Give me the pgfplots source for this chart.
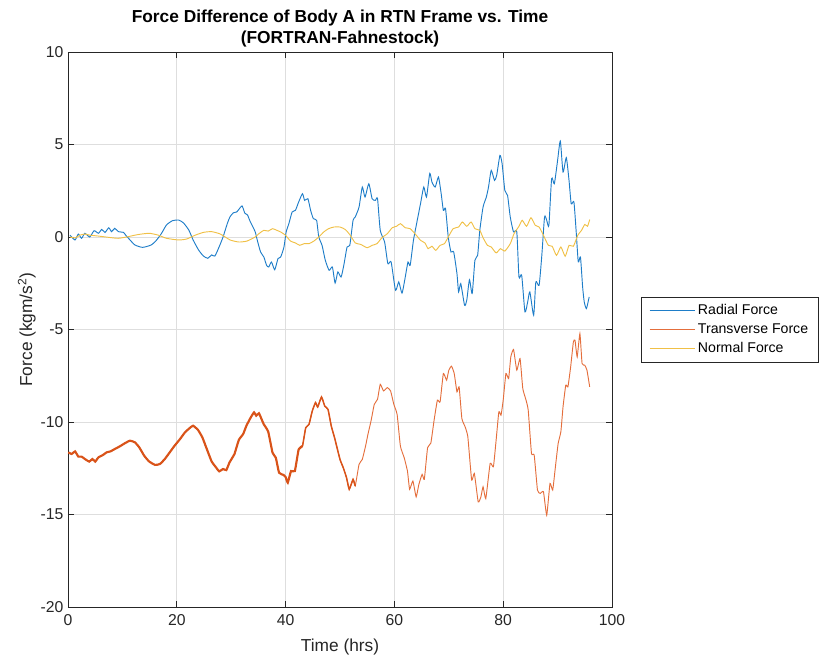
\documentclass[border=0pt]{standalone}
\usepackage{pgfplots}
\pgfplotsset{compat=1.18}
\usepackage{fontspec}
\setmainfont{Liberation Sans}
\definecolor{mblue}{RGB}{30,125,200}
\definecolor{morange}{RGB}{217,83,25}
\definecolor{morangel}{RGB}{228,110,60}
\definecolor{myellow}{RGB}{240,192,70}
\definecolor{axgray}{RGB}{38,38,38}
\definecolor{gridgray}{RGB}{222,222,222}
\begin{document}
\begin{tikzpicture}
\useasboundingbox (-51pt,-41.25pt) rectangle (563.25pt,455.25pt);
\begin{axis}[
  scale only axis,
  width=408pt, height=416.25pt,
  xmin=0, xmax=100, ymin=-20, ymax=10,
  xtick={0,20,40,60,80,100},
  ytick={-20,-15,-10,-5,0,5,10},
  yticklabels={-20,-15,-10,-5,0,5,10},
  xticklabels={0,20,40,60,80,100},
  tick align=inside, tick pos=both,
  major tick length=4.5pt,
  axis line style={axgray, line width=0.6pt},
  tick style={axgray, line width=0.6pt},
  grid=major,
  major grid style={gridgray, line width=0.5pt},
  ticklabel style={font=\fontsize{11.8}{14}\selectfont, text=axgray},
  xticklabel style={yshift=-2pt},
  title={Force Difference of Body A in RTN Frame vs. Time\\(FORTRAN-Fahnestock)},
  title style={at={(axis description cs:0.5,1)}, anchor=south, yshift=-2.5pt, inner sep=0pt, align=center, font=\fontsize{13}{15.75}\selectfont\bfseries},
  xlabel={Time (hrs)},
  xlabel style={at={(axis description cs:0.5,0)}, anchor=south, yshift=-36pt, inner sep=0pt, font=\fontsize{13}{15}\selectfont, text=axgray},
  ylabel={Force (kgm/s\textsuperscript{2})},
  ylabel style={at={([xshift=-24pt]axis description cs:0,0.5)}, anchor=south, inner sep=0pt, font=\fontsize{13}{15}\selectfont, text=axgray},
  legend style={at={(1.053,0.5)}, anchor=west, draw=axgray, line width=0.5pt, fill=white,
    font=\fontsize{10.6}{12}\selectfont, inner xsep=6pt, inner ysep=2.85pt, row sep=0pt,
    nodes={inner sep=1.9pt, text height=8pt, text depth=2.5pt}},
  legend cell align=left,
  legend image code/.code={\path (0pt,-3.6pt); \draw[#1] (0pt,0pt) -- (34pt,0pt);},
]
\addplot[mblue, line width=0.7pt, smooth, tension=0.35] coordinates {
(0.37,0.1)(1.29,-0.16)(1.9,0.16)(2.5,-0.07)(3.1,0.2)(4.0,0.0)(4.8,0.34)(5.6,0.2)(6.2,0.41)(6.8,0.25)
(7.5,0.5)(8.0,0.29)(8.6,0.47)(9.25,0.29)(10.2,0.25)(10.6,0.1)(11.4,-0.16)(12.3,-0.43)(13.7,-0.56)(15.3,-0.43)
(16.3,-0.16)(17.2,0.2)(18.1,0.65)(19.2,0.88)(20.3,0.92)(21.2,0.77)(22.2,0.38)(23.0,-0.16)(24.0,-0.7)(24.9,-1.03)
(25.7,-1.15)(26.4,-0.97)(27.0,-1.03)(27.8,-0.52)(28.5,0.0)(29.3,0.74)(29.8,1.1)(30.4,1.31)(31.0,1.35)(31.4,1.49)
(32.0,1.68)(32.5,1.29)(33.0,1.19)(33.5,0.83)(34.4,0.29)(34.8,-0.18)(35.4,-0.81)(36.0,-1.08)(36.5,-1.53)(36.9,-1.62)
(37.4,-1.35)(38.0,-1.77)(38.6,-1.17)(39.1,-1.08)(39.7,-0.54)(40.1,0.27)(40.6,0.72)(41.2,1.35)(41.8,1.44)(42.4,1.89)
(43.1,2.34)(43.5,1.98)(44.1,2.07)(44.6,1.44)(45.1,0.99)(45.7,0.9)(46.1,0)(46.7,-0.45)(47.3,-1.26)(48.0,-1.8)
(48.6,-1.62)(49.1,-2.49)(49.6,-1.89)(50.2,-2.16)(50.7,-1.53)(51.3,-0.54)(51.8,-0.45)(52.4,0.9)(52.8,1.08)(53.5,1.62)
(54.1,2.70)(54.6,2.16)(55.3,2.88)(55.9,2.07)(56.5,1.98)(56.9,2.07)(57.4,0.36)(58.2,-0.27)(58.8,-1.44)(59.4,-1.35)
(60.2,-2.88)(60.8,-2.43)(61.4,-3.03)(62.0,-2.16)(62.5,-1.35)(62.9,-1.53)(63.5,-0.18)(64.2,0.9)(64.8,1.80)(65.4,2.70)
(65.9,2.16)(66.5,3.44)(66.9,2.97)(67.5,2.70)(68.1,3.24)(68.6,2.34)(69.0,1.44)(69.4,1.53)(69.9,0)(70.4,-0.81)
(70.9,-0.81)(71.5,-1.98)(71.8,-2.97)(72.2,-2.52)(72.9,-3.69)(73.3,-3.42)(73.8,-2.31)(74.3,-3.06)(74.8,-1.26)(75.3,-0.99)
(75.7,0.36)(76.3,1.62)(76.9,2.16)(77.3,2.70)(77.8,3.60)(78.4,3.06)(78.8,3.33)(79.4,4.41)(79.8,3.96)(80.3,2.52)
(80.8,2.25)(81.3,1.08)(81.9,0.27)(82.5,0.27)(82.9,-2.16)(83.4,-2.07)(84.0,-4.05)(84.5,-3.51)(84.9,-2.97)(85.6,-4.23)
(86.0,-2.43)(86.6,-2.61)(87.1,-0.99)(87.6,1.08)(88.0,0.9)(88.4,0.63)(88.9,3.15)(89.4,2.88)(90.0,4.14)(90.5,5.19)
(91.0,3.51)(91.6,4.29)(92.1,3.06)(92.5,1.80)(93.0,1.89)(93.4,0.36)(93.8,-1.35)(94.2,-1.08)(94.6,-2.70)(94.9,-3.51)
(95.3,-3.87)(95.8,-3.24)
};
\addlegendentry{Radial Force}
\addplot[morangel, line width=0.7pt, smooth, tension=0.25] coordinates {
(0.06,-11.64)(0.67,-11.73)(1.3,-11.59)(1.9,-11.87)(2.5,-11.87)(3.1,-12.0)(3.9,-12.14)(4.5,-12.0)(5.0,-12.14)(5.6,-11.91)
(6.5,-11.77)(7.1,-11.64)(7.8,-11.59)(8.6,-11.46)(9.5,-11.32)(10.5,-11.14)(11.4,-11.01)(12.3,-11.1)(13.1,-11.37)(14.0,-11.82)
(14.9,-12.13)(16.0,-12.32)(16.9,-12.27)(17.8,-12.0)(18.7,-11.64)(19.6,-11.28)(20.6,-10.92)(21.5,-10.56)(22.4,-10.32)(23.0,-10.2)
(23.9,-10.43)(24.7,-10.83)(25.4,-11.37)(26.4,-12.13)(27.2,-12.45)(27.8,-12.67)(28.5,-12.54)(29.1,-12.6)(29.7,-12.18)(30.6,-11.73)
(31.4,-10.97)(32.2,-10.65)(32.8,-10.2)(33.6,-9.75)(34.2,-9.48)(34.6,-9.66)(35.1,-9.53)(35.7,-9.93)(36.0,-10.13)(36.8,-10.52)
(37.6,-11.66)(38.2,-11.93)(38.8,-12.74)(39.6,-12.86)(40.0,-12.97)(40.4,-13.28)(41.0,-12.65)(41.7,-12.65)(42.4,-11.48)(43.1,-11.3)
(43.7,-10.31)(44.3,-10.13)(44.9,-9.41)(45.5,-8.95)(45.9,-9.19)(46.6,-8.65)(47.2,-9.14)(47.8,-9.32)(48.4,-10.22)(49.0,-10.85)
(50.0,-12.02)(50.6,-12.47)(51.2,-13.01)(51.7,-13.64)(52.4,-13.1)(52.8,-13.46)(53.5,-12.29)(54.1,-12.02)(54.7,-11.3)(55.2,-10.58)
(55.7,-9.95)(56.3,-9.05)(56.9,-8.77)(57.4,-7.96)(58.0,-8.32)(58.7,-8.14)(59.3,-8.32)(59.9,-9.05)(60.5,-9.59)(61.1,-11.3)
(61.8,-11.93)(62.4,-12.65)(62.8,-13.64)(63.4,-13.19)(64.0,-14.05)(64.5,-13.37)(65.1,-12.83)(65.5,-13.1)(66.1,-11.39)(66.7,-11.14)
(67.3,-9.9)(67.9,-8.82)(68.4,-8.91)(69.0,-7.38)(69.6,-7.74)(70.0,-7.2)(70.5,-6.98)(71.0,-7.38)(71.5,-8.37)(71.9,-8.1)
(72.4,-9.81)(73.0,-10.26)(73.5,-10.8)(74.2,-13.14)(74.7,-12.78)(75.4,-14.32)(75.9,-14.05)(76.3,-13.5)(76.8,-14.14)(77.6,-12.24)
(78.2,-12.42)(78.7,-10.98)(79.2,-9.45)(79.6,-9.63)(80.0,-8.82)(80.5,-7.38)(81.0,-7.65)(81.4,-6.48)(81.9,-6.08)(82.5,-7.2)
(83.1,-6.57)(83.6,-8.19)(84.2,-8.82)(84.6,-9.36)(85.2,-11.7)(85.7,-11.79)(86.3,-13.68)(86.8,-13.86)(87.4,-13.77)(88.0,-15.04)
(88.6,-13.32)(89.1,-13.68)(89.6,-12.42)(90.1,-11.16)(90.6,-10.53)(91.0,-9.18)(91.5,-8.01)(91.9,-8.1)(92.4,-7.02)(92.9,-5.67)
(93.2,-5.58)(93.6,-6.48)(94.1,-5.22)(94.5,-6.84)(95.0,-6.93)(95.4,-7.2)(95.9,-8.1)
};
\addlegendentry{Transverse Force}
\addplot[myellow, line width=0.7pt, smooth, tension=0.35] coordinates {
(0.37,0)(1.29,-0.05)(2.2,0.1)(3.1,0.16)(4.0,0.1)(5.6,0.05)(7.5,-0.02)(9.25,-0.07)(11.1,0.02)(12.3,0.1)
(13.5,0.16)(15.0,0.2)(16.6,0.1)(18.1,-0.07)(20.3,-0.16)(21.8,-0.11)(23.4,0.1)(24.9,0.25)(26.4,0.29)(28.0,0.16)
(29.8,-0.16)(31.4,-0.27)(32.9,-0.22)(34.4,0)(35.1,0.18)(36.0,0.36)(36.8,0.32)(37.6,0.45)(38.4,0.36)(39.1,0.27)
(40.0,0.09)(40.9,-0.22)(41.8,-0.32)(42.6,-0.45)(43.4,-0.36)(44.3,-0.36)(45.2,-0.22)(46.1,0)(47.0,0.27)(47.9,0.45)
(48.9,0.54)(50.0,0.54)(51.0,0.4)(51.9,0.09)(52.8,-0.32)(53.8,-0.4)(55.0,-0.58)(55.9,-0.45)(56.8,-0.36)(57.7,-0.04)
(58.7,0.18)(59.6,0.5)(60.4,0.58)(61.1,0.72)(62.0,0.5)(62.9,0.45)(63.9,0.14)(64.8,-0.18)(65.6,-0.32)(66.2,-0.63)
(66.9,-0.5)(67.6,-0.72)(68.4,-0.45)(69.2,-0.36)(69.9,0)(70.8,0.45)(71.8,0.54)(72.5,0.81)(73.3,0.58)(74.1,0.81)
(74.8,0.45)(75.7,0.36)(76.3,-0.04)(77.1,-0.45)(77.8,-0.54)(78.7,-0.86)(79.5,-0.63)(80.3,-0.76)(81.3,-0.36)(82.0,0.18)
(82.9,0.58)(83.5,0.9)(84.3,0.58)(85.1,1.04)(85.9,0.63)(86.6,0.54)(87.4,0.09)(88.3,-0.45)(89.0,-0.5)(89.8,-0.99)
(90.6,-0.54)(91.4,-1.04)(92.1,-0.45)(92.9,-0.5)(93.7,0.09)(94.4,0.36)(95.0,0.68)(95.5,0.58)(95.9,0.94)
};
\addlegendentry{Normal Force}
\addplot[morange, line width=1.6pt, forget plot, smooth, tension=0.25] coordinates {
(0.06,-11.64)(0.67,-11.73)(1.3,-11.59)(1.9,-11.87)(2.5,-11.87)(3.1,-12.0)(3.9,-12.14)(4.5,-12.0)(5.0,-12.14)(5.6,-11.91)
(6.5,-11.77)(7.1,-11.64)(7.8,-11.59)(8.6,-11.46)(9.5,-11.32)(10.5,-11.14)(11.4,-11.01)(12.3,-11.1)(13.1,-11.37)(14.0,-11.82)
(14.9,-12.13)(16.0,-12.32)(16.9,-12.27)(17.8,-12.0)(18.7,-11.64)(19.6,-11.28)(20.6,-10.92)(21.5,-10.56)(22.4,-10.32)(23.0,-10.2)
(23.9,-10.43)(24.7,-10.83)(25.4,-11.37)(26.4,-12.13)(27.2,-12.45)(27.8,-12.67)(28.5,-12.54)(29.1,-12.6)(29.7,-12.18)(30.6,-11.73)
(31.4,-10.97)(32.2,-10.65)(32.8,-10.2)(33.6,-9.75)(34.2,-9.48)(34.6,-9.66)(35.1,-9.53)(35.7,-9.93)(36.0,-10.13)(36.8,-10.52)
(37.6,-11.66)(38.2,-11.93)(38.8,-12.74)(39.6,-12.86)(40.0,-12.97)(40.4,-13.28)(41.0,-12.65)(41.7,-12.65)(42.4,-11.48)(43.1,-11.3)
};
\addplot[morange, line width=1.1pt, forget plot, smooth, tension=0.25] coordinates {
(42.4,-11.48)(43.1,-11.3)(43.7,-10.31)(44.3,-10.13)(44.9,-9.41)(45.5,-8.95)(45.9,-9.19)(46.6,-8.65)(47.2,-9.14)(47.8,-9.32)(48.4,-10.22)(49.0,-10.85)
(50.0,-12.02)(50.6,-12.47)(51.2,-13.01)(51.7,-13.64)(52.4,-13.1)(52.8,-13.46)
};
\end{axis}
\end{tikzpicture}
\end{document}
